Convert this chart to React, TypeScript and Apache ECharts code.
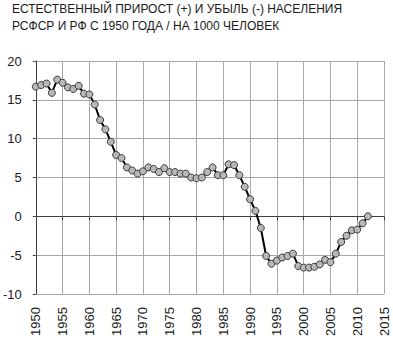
import React, { useEffect, useRef } from "react";
import * as echarts from "echarts";

const titleLines = [
  "ЕСТЕСТВЕННЫЙ ПРИРОСТ (+) И УБЫЛЬ (-) НАСЕЛЕНИЯ",
  "РСФСР И РФ С 1950 ГОДА / НА 1000 ЧЕЛОВЕК",
];

const years = [
  1950, 1951, 1952, 1953, 1954, 1955, 1956, 1957, 1958, 1959,
  1960, 1961, 1962, 1963, 1964, 1965, 1966, 1967, 1968, 1969,
  1970, 1971, 1972, 1973, 1974, 1975, 1976, 1977, 1978, 1979,
  1980, 1981, 1982, 1983, 1984, 1985, 1986, 1987, 1988, 1989,
  1990, 1991, 1992, 1993, 1994, 1995, 1996, 1997, 1998, 1999,
  2000, 2001, 2002, 2003, 2004, 2005, 2006, 2007, 2008, 2009,
  2010, 2011, 2012,
];

const values = [
  16.7, 16.9, 17.1, 15.9, 17.6, 17.2, 16.6, 16.4, 16.8, 15.8,
  15.7, 14.4, 12.4, 11.2, 9.6, 7.9, 7.5, 6.3, 5.9, 5.5,
  5.8, 6.3, 6.1, 5.7, 6.2, 5.7, 5.7, 5.5, 5.5, 5.0,
  4.9, 5.0, 5.7, 6.3, 5.3, 5.3, 6.7, 6.6, 5.3, 3.8,
  2.2, 0.7, -1.5, -5.1, -6.1, -5.7, -5.3, -5.1, -4.8, -6.4,
  -6.6, -6.6, -6.5, -6.2, -5.6, -5.9, -4.8, -3.3, -2.5, -1.8,
  -1.7, -0.9, 0.0,
];

const xMin = 1950;
const xMax = 2015;
const xStep = 5;
const yMin = -10;
const yMax = 20;
const yStep = 5;

export default function App() {
  const ref = useRef<HTMLDivElement>(null);
  useEffect(() => {
    if (!ref.current) return;
    const chart = echarts.init(ref.current, null, { renderer: "svg" });
    const font = "'Liberation Sans', Arial, sans-serif";
    chart.setOption({
      animation: false,
      backgroundColor: "#ffffff",
      title: {
        text: titleLines.join("\n"),
        left: 12,
        top: 0,
        padding: 0,
        textStyle: {
          fontFamily: font,
          fontSize: 12,
          fontWeight: "normal",
          color: "#1a1a1a",
          lineHeight: 17,
        },
      },
      grid: { left: 33, right: 9, top: 61, bottom: 51, containLabel: false },
      xAxis: {
        type: "value",
        min: xMin,
        max: xMax,
        interval: xStep,
        axisLine: { show: true, lineStyle: { color: "#404040", width: 1 } },
        axisTick: { show: true, length: 4, lineStyle: { color: "#404040" } },
        splitLine: { show: true, lineStyle: { color: "#a8a8a8", width: 1 } },
        axisLabel: {
          rotate: 90,
          margin: 13,
          fontFamily: font,
          fontSize: 13,
          color: "#1a1a1a",
          formatter: (v: number) => String(v),
        },
      },
      yAxis: {
        type: "value",
        min: yMin,
        max: yMax,
        interval: yStep,
        axisLine: { show: true, lineStyle: { color: "#404040", width: 1 } },
        axisTick: { show: true, length: 3, lineStyle: { color: "#404040" } },
        splitLine: { show: true, lineStyle: { color: "#a8a8a8", width: 1 } },
        axisLabel: {
          margin: 14,
          fontFamily: font,
          fontSize: 13,
          color: "#1a1a1a",
        },
      },
      series: [
        {
          type: "line",
          data: years.map((y, i) => [y, values[i]]),
          symbol: "circle",
          symbolSize: 7,
          lineStyle: { color: "#000000", width: 2 },
          itemStyle: { color: "#b8b8b8", borderColor: "#3a3a3a", borderWidth: 1 },
        },
      ],
    });
    return () => chart.dispose();
  }, []);
  return (
    <div
      ref={ref}
      style={{ position: "absolute", left: 0, top: 0, width: 393, height: 345 }}
    />
  );
}
